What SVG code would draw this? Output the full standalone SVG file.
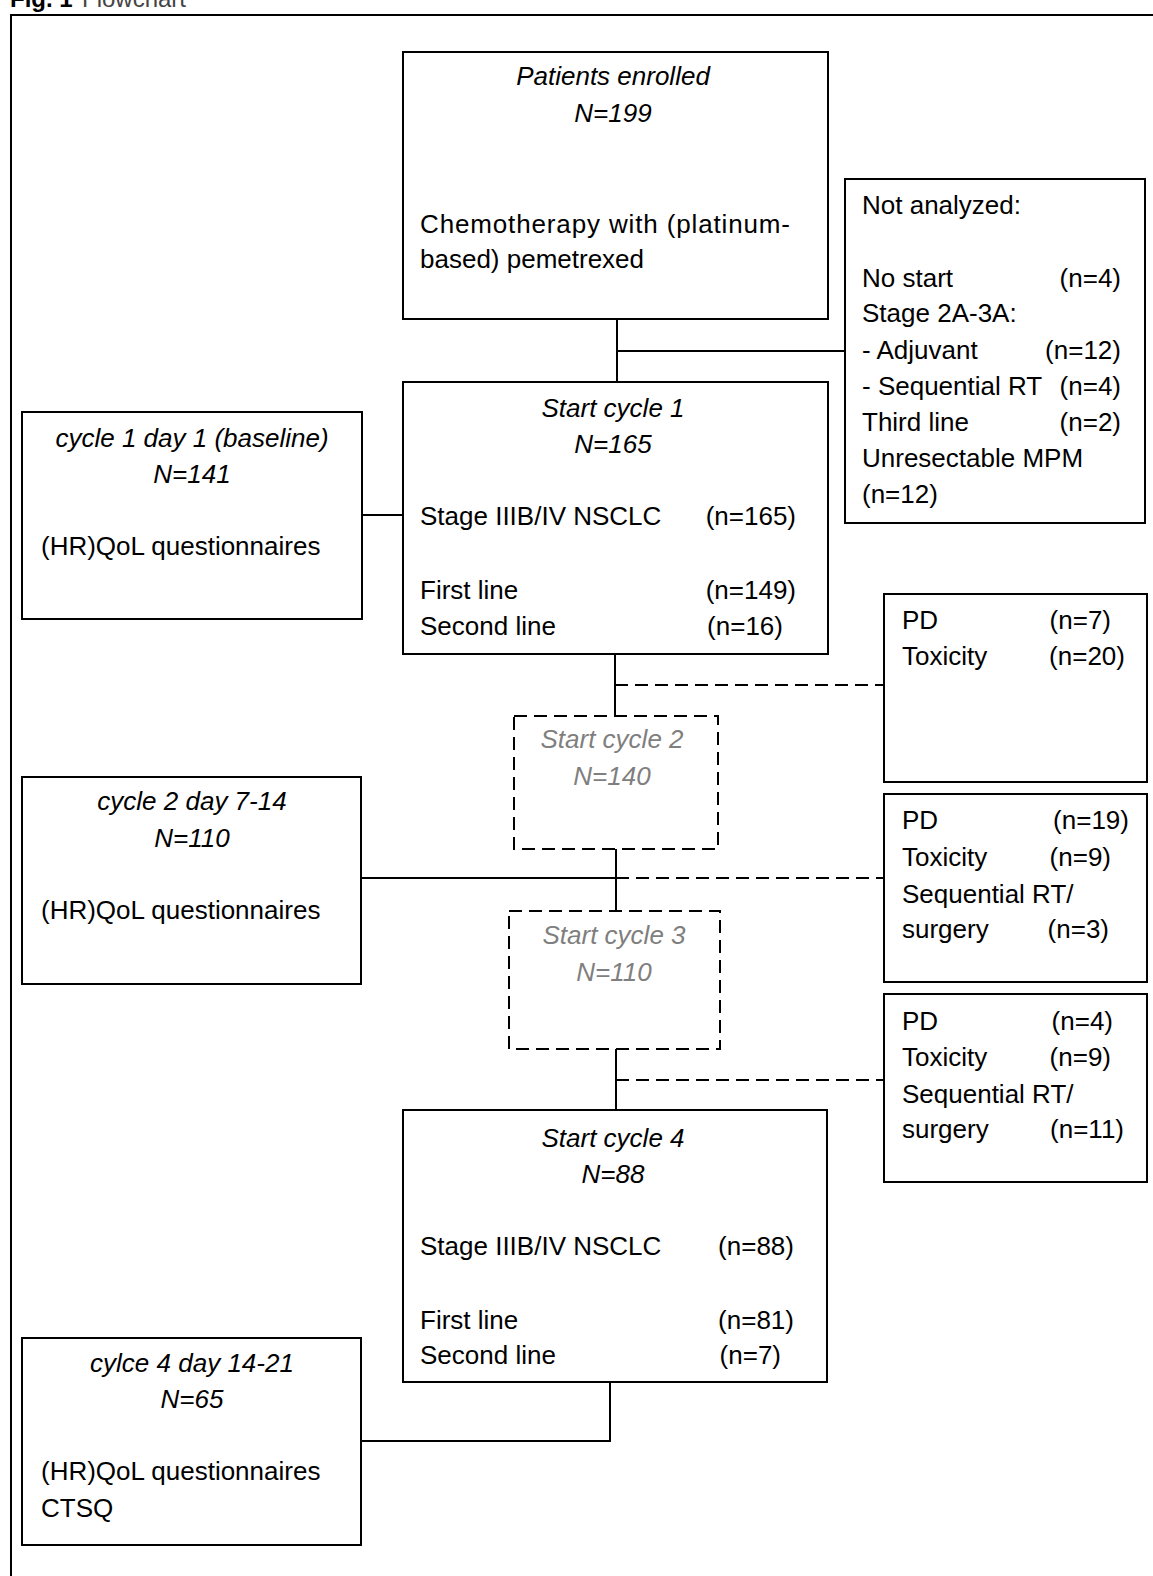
<svg xmlns="http://www.w3.org/2000/svg" width="1153" height="1576" viewBox="0 0 1153 1576">
<style>
  text { font-family: "Liberation Sans", Arial, sans-serif; font-size: 26px; fill: #000; }
  .it { font-style: italic; text-anchor: middle; }
  .gray { fill: #7f7f7f; }
  .end { text-anchor: end; }
  .box { fill: #fff; stroke: #000; stroke-width: 2; }
  .dbox { fill: #fff; stroke: #000; stroke-width: 2; stroke-dasharray: 13 7; }
  .ln { fill: none; stroke: #000; stroke-width: 2; }
  .dln { fill: none; stroke: #000; stroke-width: 2; stroke-dasharray: 13 7; }
</style>
<rect x="0" y="0" width="1153" height="1576" fill="#fff"/>
<g id="header">
  <text x="10" y="7" style="font-size:24px;font-weight:bold;">Fig. 1</text>
  <text x="82" y="7" style="font-size:24px;fill:#444;">Flowchart</text>
</g>
<g id="frame">
  <path class="ln" d="M11,1576 V15 H1153" stroke-width="2.5"/>
</g>
<g id="connectors">
  <path class="ln" d="M617,319 V382"/>
  <path class="ln" d="M617,351 H845"/>
  <path class="ln" d="M362,515 H403"/>
  <path class="ln" d="M615,654 V716"/>
  <path class="dln" d="M615,685 H884"/>
  <path class="ln" d="M616,849 V911"/>
  <path class="ln" d="M361,878 H616"/>
  <path class="dln" d="M616,878 H884"/>
  <path class="ln" d="M616,1049 V1110"/>
  <path class="dln" d="M616,1080 H884"/>
  <path class="ln" d="M610,1382 V1442"/>
  <path class="ln" d="M361,1441 H610"/>
</g>
<g id="node-enrolled">
  <rect class="box" x="403" y="52" width="425" height="267"/>
  <text class="it" x="613" y="85">Patients enrolled</text>
  <text class="it" x="613" y="122">N=199</text>
  <text x="420" y="233" textLength="370" lengthAdjust="spacing">Chemotherapy with (platinum-</text>
  <text x="420" y="268">based) pemetrexed</text>
</g>
<g id="node-not-analyzed">
  <rect class="box" x="845" y="179" width="300" height="344"/>
  <text x="862" y="214">Not analyzed:</text>
  <text x="862" y="287">No start</text><text class="end" x="1121" y="287">(n=4)</text>
  <text x="862" y="322">Stage 2A-3A:</text>
  <text x="862" y="359"> - Adjuvant</text><text class="end" x="1121" y="359">(n=12)</text>
  <text x="862" y="395"> - Sequential RT</text><text class="end" x="1121" y="395">(n=4)</text>
  <text x="862" y="431">Third line</text><text class="end" x="1121" y="431">(n=2)</text>
  <text x="862" y="467">Unresectable MPM</text>
  <text x="862" y="503">(n=12)</text>
</g>
<g id="node-c1d1">
  <rect class="box" x="22" y="412" width="340" height="207"/>
  <text class="it" x="192" y="447">cycle 1 day 1 (baseline)</text>
  <text class="it" x="192" y="483">N=141</text>
  <text x="41" y="555">(HR)QoL questionnaires</text>
</g>
<g id="node-cycle1">
  <rect class="box" x="403" y="382" width="425" height="272"/>
  <text class="it" x="613" y="417">Start cycle 1</text>
  <text class="it" x="613" y="453">N=165</text>
  <text x="420" y="525">Stage IIIB/IV NSCLC</text><text class="end" x="796" y="525">(n=165)</text>
  <text x="420" y="599">First line</text><text class="end" x="796" y="599">(n=149)</text>
  <text x="420" y="635">Second line</text><text class="end" x="783" y="635">(n=16)</text>
</g>
<g id="node-pd1">
  <rect class="box" x="884" y="594" width="263" height="188"/>
  <text x="902" y="629">PD</text><text class="end" x="1111" y="629">(n=7)</text>
  <text x="902" y="665">Toxicity</text><text class="end" x="1125" y="665">(n=20)</text>
</g>
<g id="node-cycle2">
  <rect class="dbox" x="514" y="716" width="204" height="133"/>
  <text class="it gray" x="612" y="748">Start cycle 2</text>
  <text class="it gray" x="612" y="785">N=140</text>
</g>
<g id="node-c2d">
  <rect class="box" x="22" y="777" width="339" height="207"/>
  <text class="it" x="192" y="810">cycle 2 day  7-14</text>
  <text class="it" x="192" y="847">N=110</text>
  <text x="41" y="919">(HR)QoL questionnaires</text>
</g>
<g id="node-pd2">
  <rect class="box" x="884" y="794" width="263" height="188"/>
  <text x="902" y="829">PD</text><text class="end" x="1129" y="829">(n=19)</text>
  <text x="902" y="866">Toxicity</text><text class="end" x="1111" y="866">(n=9)</text>
  <text x="902" y="903">Sequential RT/</text>
  <text x="902" y="938">surgery</text><text class="end" x="1109" y="938">(n=3)</text>
</g>
<g id="node-cycle3">
  <rect class="dbox" x="509" y="911" width="211" height="138"/>
  <text class="it gray" x="614" y="944">Start cycle 3</text>
  <text class="it gray" x="614" y="981">N=110</text>
</g>
<g id="node-pd3">
  <rect class="box" x="884" y="994" width="263" height="188"/>
  <text x="902" y="1030">PD</text><text class="end" x="1113" y="1030">(n=4)</text>
  <text x="902" y="1066">Toxicity</text><text class="end" x="1111" y="1066">(n=9)</text>
  <text x="902" y="1103">Sequential RT/</text>
  <text x="902" y="1138">surgery</text><text class="end" x="1124" y="1138">(n=11)</text>
</g>
<g id="node-cycle4">
  <rect class="box" x="403" y="1110" width="424" height="272"/>
  <text class="it" x="613" y="1147">Start cycle 4</text>
  <text class="it" x="613" y="1183">N=88</text>
  <text x="420" y="1255">Stage IIIB/IV NSCLC</text><text class="end" x="794" y="1255">(n=88)</text>
  <text x="420" y="1329">First line</text><text class="end" x="794" y="1329">(n=81)</text>
  <text x="420" y="1364">Second line</text><text class="end" x="781" y="1364">(n=7)</text>
</g>
<g id="node-c4d">
  <rect class="box" x="22" y="1338" width="339" height="207"/>
  <text class="it" x="192" y="1372">cylce 4 day  14-21</text>
  <text class="it" x="192" y="1408">N=65</text>
  <text x="41" y="1480">(HR)QoL questionnaires</text>
  <text x="41" y="1517">CTSQ</text>
</g>
</svg>
